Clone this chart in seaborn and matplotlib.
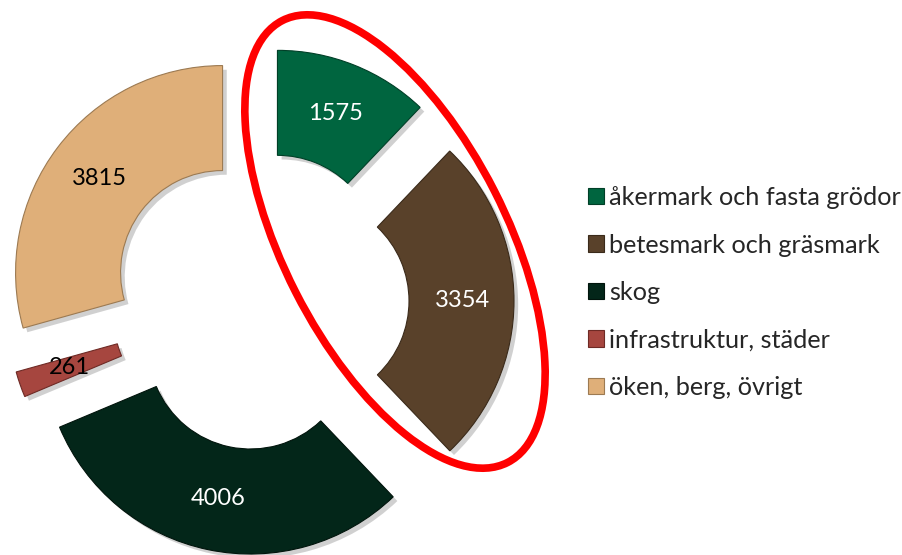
import matplotlib
matplotlib.use("Agg")
import matplotlib.pyplot as plt
import matplotlib.patheffects as pe
from matplotlib.patches import Ellipse
import seaborn as sns

# ---- data ----
categories = ["åkermark och fasta grödor", "betesmark och gräsmark", "skog",
              "infrastruktur, städer", "öken, berg, övrigt"]
values = [1575, 3354, 4006, 261, 3815]
colors = ["#00653F", "#59412A", "#032619", "#A6463F", "#DFAF79"]
edge_colors = ["#003f27", "#3a2a1a", "#01140c", "#6e2a25", "#9c7a52"]
label_colors = ["white", "white", "white", "black", "black"]

sns.set_theme(style="white")
plt.rcParams["font.family"] = ["Lato", "DejaVu Sans"]

fig = plt.figure(figsize=(9.02, 5.55), dpi=100)
ax = fig.add_axes([0, 0, 1, 1])

W, H = 902, 555
R = 207
ring = 105
explode_dist = 47

wedges, texts, autotexts = ax.pie(
    values,
    colors=colors,
    startangle=90,
    counterclock=False,
    radius=R,
    center=(260, H - 301),
    explode=[explode_dist] * len(values),
    wedgeprops=dict(width=ring, linewidth=0.8),
    autopct=lambda p: f"{round(p * sum(values) / 100)}",
    pctdistance=0.75,
    textprops=dict(fontsize=17),
)
for w, ec in zip(wedges, edge_colors):
    w.set_edgecolor(ec)
    w.set_path_effects([pe.SimplePatchShadow(offset=(3, -3), shadow_rgbFace="#666666", alpha=0.3),
                        pe.Normal()])
for t, c in zip(autotexts, label_colors):
    t.set_color(c)

# red ellipse highlighting the first two categories
ell = Ellipse((395, H - 241.5), width=496, height=223, angle=-63,
              fill=False, edgecolor="#FF0000", linewidth=5.5)
ax.add_patch(ell)

ax.set_xlim(0, W)
ax.set_ylim(0, H)
ax.set_aspect("equal", adjustable="box")
ax.axis("off")

leg = ax.legend(wedges, categories, loc="upper left",
                bbox_to_anchor=(588 / W, 1 - 186 / H),
                frameon=False, fontsize=18.2,
                handlelength=0.62, handleheight=0.62, handletextpad=0.2,
                labelspacing=0.97, borderpad=0, borderaxespad=0)
for h in leg.legend_handles:
    h.set_path_effects([])
    h.set_linewidth(0.8)

fig.savefig("out.png", dpi=100)
